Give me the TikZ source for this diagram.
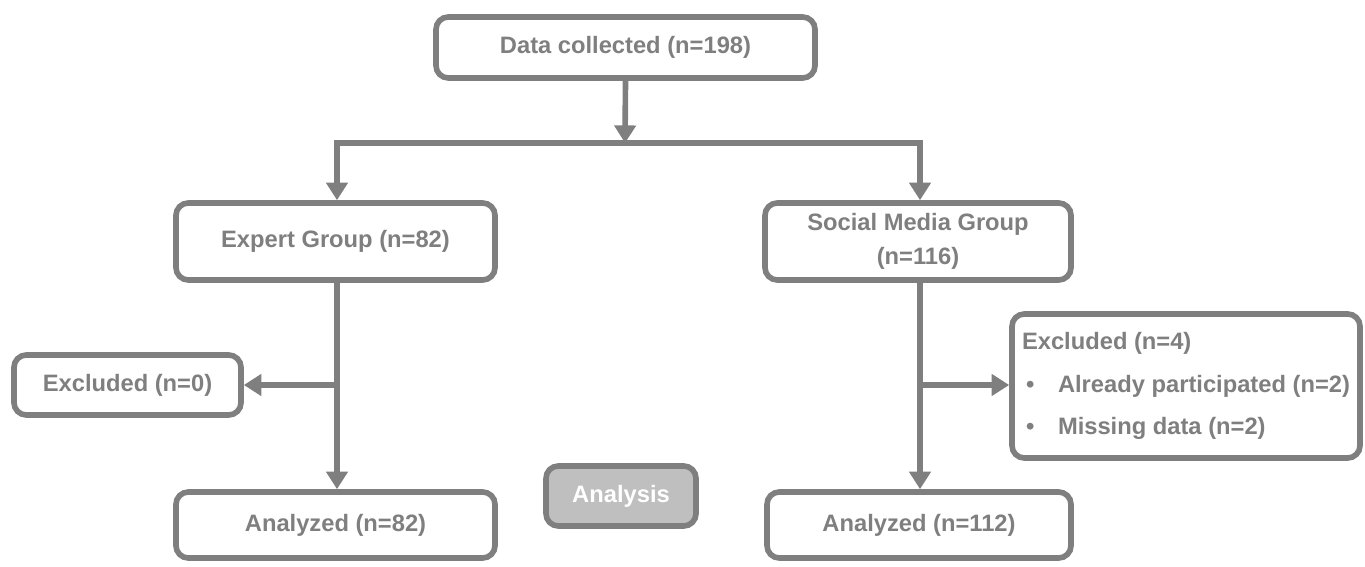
\documentclass[tikz,border=0pt]{standalone}
\usepackage{fontspec}
\setmainfont{Liberation Sans}
\usepackage{xcolor}
\usetikzlibrary{arrows.meta,calc}
\definecolor{flowgray}{RGB}{127,127,127}
\definecolor{analysisgray}{RGB}{191,191,191}
\tikzstyle{flowbox}=[draw=flowgray, line width=3.2pt, rounded corners=7pt, fill=white, text=flowgray, font=\bfseries\fontsize{13.5}{19}\selectfont, align=center, inner sep=0pt]
\tikzstyle{flowline}=[draw=flowgray, line width=3.2pt]
\tikzstyle{flowarrow}=[flowline, -{Triangle[length=10pt,width=12pt]}]
% box from pixel corners (x1,y1) to (x2,y2)
\newcommand{\flowboxat}[7][]{
\node[flowbox, #1, minimum width={(#5-#3)*0.02cm}, minimum height={(#6-#4)*0.02cm}] (#2) at ({(#3+#5)/2},{(#4+#6)/2}) {#7};
}

\begin{document}
\begin{tikzpicture}[x=0.02cm, y=-0.02cm]
\useasboundingbox (0,0) rectangle (1365,567);
\flowboxat{collected}{436}{17}{815}{78}{Data collected (n=198)}
\flowboxat{expert}{176}{203}{495}{280}{Expert Group (n=82)}
\flowboxat{social}{765}{203}{1071}{280}{Social Media Group\\(n=116)}
\flowboxat{exclA}{14}{355}{241}{415}{Excluded (n=0)}
\flowboxat[align=left, font=\bfseries\fontsize{13.5}{24}\selectfont]{exclB}{1012}{314}{1360}{458}{Excluded (n=4)\\
\makebox[0.72cm][l]{\hspace{0.08cm}•}Already participated (n=2)\\
\makebox[0.72cm][l]{\hspace{0.08cm}•}Missing data (n=2)}
\flowboxat{analyzedA}{176}{492}{495}{558}{Analyzed (n=82)}
\flowboxat{analyzedB}{767}{492}{1071}{558}{Analyzed (n=112)}
\flowboxat[fill=analysisgray, text=white]{analysis}{546}{466}{696}{526}{Analysis}
\coordinate (split) at (625,143);
\coordinate (branchA) at (337,385);
\coordinate (branchB) at (920,385);
\draw[flowarrow] (collected.south) -- (split);
\draw[flowarrow] (split) -| (branchA |- expert.north);
\draw[flowarrow] (split) -| (branchB |- social.north);
\draw[flowarrow] (branchA |- expert.south) -- (branchA |- analyzedA.north);
\draw[flowarrow] (branchB |- social.south) -- (branchB |- analyzedB.north);
\draw[flowarrow] (branchA) -- (exclA.east);
\draw[flowarrow] (branchB) -- (exclB.west |- branchB);
\end{tikzpicture}
\end{document}
